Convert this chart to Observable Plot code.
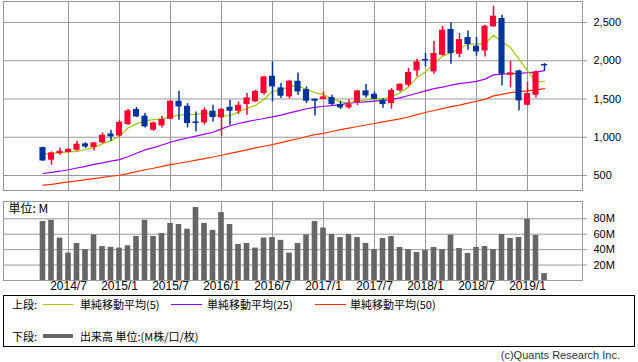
<!DOCTYPE html>
<html><head><meta charset="utf-8">
<script src="https://cdn.jsdelivr.net/npm/d3@7"></script>
<script src="https://cdn.jsdelivr.net/npm/@observablehq/plot@0.6"></script>
<style>
body{margin:0;background:#fff;}
#wrap{position:relative;width:638px;height:362px;font-family:"Liberation Sans","Noto Sans CJK JP",sans-serif;color:#000;overflow:hidden;}
#top,#vol{position:absolute;left:0;}
#top{top:0;} #vol{top:195px;}
svg{overflow:visible;}
#legend{position:absolute;left:3px;top:295px;width:632px;height:52px;border:1px solid #000;box-sizing:border-box;}
.lg{position:absolute;font-size:11px;line-height:12px;font-family:"Noto Sans CJK JP","Liberation Sans",sans-serif;white-space:nowrap;}
.sw{position:absolute;height:0;}
#copy{position:absolute;right:18px;top:349px;font-size:11px;line-height:12px;color:#333;font-family:"Liberation Sans",sans-serif;white-space:nowrap;}
</style></head>
<body>
<div id="wrap">
<div id="top"></div>
<div id="vol"></div>
<div id="legend"></div>
<div class="lg" style="left:12px;top:298px;">上段:</div>
<div class="sw" style="left:43px;width:30px;top:304px;border-top:1px solid #99cc00;"></div>
<div class="lg" style="left:80px;top:298px;">単純移動平均(5)</div>
<div class="sw" style="left:171px;width:31px;top:304px;border-top:1px solid #9900ff;"></div>
<div class="lg" style="left:207px;top:298px;">単純移動平均(25)</div>
<div class="sw" style="left:315px;width:31px;top:304px;border-top:1px solid #ff3300;"></div>
<div class="lg" style="left:350px;top:298px;">単純移動平均(50)</div>
<div class="lg" style="left:12px;top:330px;">下段:</div>
<div class="sw" style="left:43px;width:30px;top:334px;border-top:4px solid #666;"></div>
<div class="lg" style="left:80px;top:330px;">出来高 単位:(M株/口/枚)</div>
<div id="copy">(c)Quants Research Inc.</div>
</div>
<script>
// Monthly candles 2014/4 .. 2019/3
const months = ["2014/4","2014/5","2014/6","2014/7","2014/8","2014/9","2014/10","2014/11","2014/12",
"2015/1","2015/2","2015/3","2015/4","2015/5","2015/6","2015/7","2015/8","2015/9","2015/10","2015/11","2015/12",
"2016/1","2016/2","2016/3","2016/4","2016/5","2016/6","2016/7","2016/8","2016/9","2016/10","2016/11","2016/12",
"2017/1","2017/2","2017/3","2017/4","2017/5","2017/6","2017/7","2017/8","2017/9","2017/10","2017/11","2017/12",
"2018/1","2018/2","2018/3","2018/4","2018/5","2018/6","2018/7","2018/8","2018/9","2018/10","2018/11","2018/12",
"2019/1","2019/2","2019/3"];
const open  = [865,700,787,800,830,913,865,926,1043,1017,1166,1362,1275,1092,1148,1235,1471,1405,1200,1187,1340,1253,1392,1340,1427,1462,1571,1797,1645,1527,1732,1623,1497,1493,1518,1427,1385,1454,1606,1562,1484,1440,1606,1680,1867,2016,1854,2072,2408,2085,2303,2190,2128,2442,2552,1810,1867,1418,1549,1950];
const high  = [870,808,860,850,948,928,930,1056,1091,1222,1361,1388,1310,1200,1270,1480,1601,1440,1331,1383,1418,1370,1484,1462,1571,1614,1797,1984,1702,1745,1841,1658,1500,1592,1549,1471,1490,1614,1689,1593,1506,1636,1700,1898,2020,2094,2255,2451,2494,2355,2390,2303,2464,2712,2595,1993,1876,1723,1867,1963];
const low   = [685,634,765,795,813,851,821,917,948,1004,1152,1260,1122,1078,1122,1230,1222,1122,1069,1161,1200,1013,1157,1297,1288,1455,1549,1462,1506,1501,1549,1440,1279,1490,1410,1362,1365,1414,1514,1490,1379,1366,1590,1658,1788,1919,1824,2060,1954,2037,2137,2059,2050,2440,1671,1645,1344,1410,1514,1863];
const close = [690,795,817,843,908,873,926,1026,1004,1196,1344,1265,1135,1187,1231,1471,1396,1179,1179,1353,1257,1366,1340,1418,1514,1601,1788,1658,1536,1732,1592,1471,1471,1527,1427,1383,1425,1606,1540,1497,1427,1614,1693,1846,1985,1998,2094,2399,2094,2277,2212,2115,2451,2582,1824,1841,1475,1571,1854,1932];
const ma5   = [780,790,800,810,815,840,865,917,955,1015,1120,1175,1214,1231,1240,1266,1288,1297,1297,1318,1301,1275,1284,1331,1375,1418,1493,1601,1614,1667,1671,1623,1584,1558,1506,1462,1452,1471,1484,1501,1501,1527,1580,1658,1780,1854,1963,2060,2102,2159,2216,2216,2225,2333,2246,2172,2020,1867,1723,1732];
const ma25  = [526,541,556,575,598,620,645,665,688,708,745,790,835,865,898,935,965,990,1015,1040,1065,1110,1150,1180,1205,1225,1245,1266,1290,1318,1345,1372,1390,1405,1412,1427,1445,1454,1462,1471,1480,1495,1515,1545,1575,1605,1635,1655,1680,1700,1715,1730,1760,1815,1825,1830,1835,1843,1852,1870];
const ma50  = [373,385,400,416,430,445,460,475,490,503,525,550,575,595,620,643,660,680,700,720,742,765,790,812,835,860,882,904,930,955,980,1010,1035,1050,1075,1100,1120,1140,1160,1180,1200,1220,1240,1265,1295,1323,1350,1375,1400,1420,1445,1470,1495,1540,1560,1584,1595,1606,1620,1636];
const volume = [76.5,78,55,35.5,48,40,59,44,43,42,45,57,78,57,61,74,72.6,66.5,94.6,74,65,88,72.6,46.7,48,42,55,55.7,52,35.5,48,59,76.5,68,59.6,55.7,59.6,55.7,48,40,54.5,57,42.8,40,36.3,39,42.8,40,58.8,41.5,35,42.8,44,40,59.6,54.5,55.7,79.5,58.3,9];
const tickLabels = ["2014/7","2015/1","2015/7","2016/1","2016/7","2017/1","2017/7","2018/1","2018/7","2019/1"];
const priceTicks = [500,1000,1500,2000,2500];
const volTicks = [20,40,60,80];

const tickIdx = tickLabels.map(l => months.indexOf(l));
const data = months.map((m,i)=>({i, m, o:open[i], h:high[i], l:low[i], c:close[i], m5:ma5[i], m25:ma25[i], m50:ma50[i], v:volume[i]}));
const up = d => d.c >= d.o;
const RED = "#ff0033", BLUE = "#003399";
const xDomain = [-4.647, 63.47];
const hw = 0.36;
const font = {fontFamily:"'Liberation Sans', sans-serif", fontSize:"11px", color:"#000", background:"transparent"};

const topPlot = Plot.plot({
  width:638, height:192, marginLeft:3, marginRight:56, marginTop:1, marginBottom:2,
  style: font,
  x:{domain:xDomain, axis:null},
  y:{domain:[304,2774], axis:null},
  marks:[
    Plot.ruleX(tickIdx, {stroke:"#999"}),
    Plot.ruleY(priceTicks, {stroke:"#999"}),
    Plot.axisY(priceTicks, {anchor:"right", tickFormat:d3.format(","), tickSize:4, tickPadding:7, stroke:"#999", color:"#000", label:null, textAnchor:"start", fontSize:11}),
    Plot.line(data, {x:"i", y:"m50", stroke:"#ff3300", strokeWidth:1.2}),
    Plot.line(data, {x:"i", y:"m25", stroke:"#9900ff", strokeWidth:1.2}),
    Plot.line(data, {x:"i", y:"m5", stroke:"#99cc00", strokeWidth:1.2}),
    Plot.ruleX(data, {filter:up, x:"i", y1:"l", y2:"h", stroke:RED, strokeWidth:1.5}),
    Plot.ruleX(data, {filter:d=>!up(d), x:"i", y1:"l", y2:"h", stroke:BLUE, strokeWidth:1.5}),
    Plot.rect(data, {filter:up, x1:d=>d.i-hw, x2:d=>d.i+hw, y1:"o", y2:"c", fill:RED}),
    Plot.rect(data, {filter:d=>!up(d), x1:d=>d.i-hw, x2:d=>d.i+hw, y1:"o", y2:"c", fill:BLUE}),
    Plot.frame({stroke:"#999"})
  ]
});
document.getElementById("top").appendChild(topPlot);

const volPlot = Plot.plot({
  width:638, height:100, marginLeft:3, marginRight:56, marginTop:6, marginBottom:15,
  style: font,
  x:{domain:xDomain, axis:null},
  y:{domain:[0,102.4], axis:null},
  marks:[
    Plot.ruleX(tickIdx, {stroke:"#999"}),
    Plot.ruleY(volTicks, {stroke:"#999"}),
    Plot.rect(data, {x1:d=>d.i-0.33, x2:d=>d.i+0.33, y1:0, y2:"v", fill:"#666"}),
    Plot.axisY(volTicks, {anchor:"right", tickFormat:d=>d+"M", tickSize:4, tickPadding:7, stroke:"#999", color:"#000", label:null, textAnchor:"start", fontSize:11}),
    Plot.axisX(tickIdx, {anchor:"bottom", tickFormat:d=>months[d], tickSize:0, tickPadding:1, color:"#000", label:null, fontSize:12}),
    Plot.text(["単位: M"], {frameAnchor:"top-left", dx:5, dy:3, lineAnchor:"top", fontSize:12, fontFamily:"'Noto Sans CJK JP', sans-serif"}),
    Plot.frame({stroke:"#999"})
  ]
});
document.getElementById("vol").appendChild(volPlot);
</script>
</body></html>
